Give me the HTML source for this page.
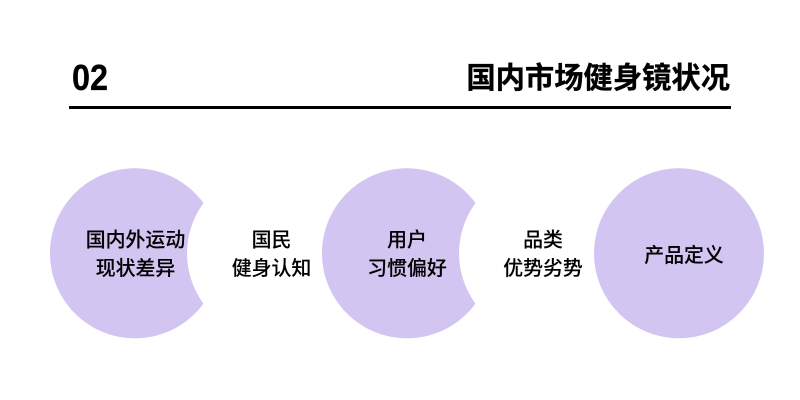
<!DOCTYPE html>
<html lang="zh">
<head>
<meta charset="utf-8">
<style>
html,body{margin:0;padding:0;background:#fff}
svg{display:block}
text{font-family:"Liberation Sans","Noto Sans CJK SC",sans-serif;fill:#000}
</style>
</head>
<body>
<svg width="800" height="400" viewBox="0 0 800 400" xmlns="http://www.w3.org/2000/svg">
<rect width="800" height="400" fill="#fff"/>
<text x="72" y="90" font-size="36" font-weight="700" textLength="36" lengthAdjust="spacingAndGlyphs" stroke="#000" stroke-width="0.3">02</text>
<text x="730" y="88" font-size="29.3" font-weight="700" text-anchor="end" stroke="#000" stroke-width="0.35">国内市场健身镜状况</text>
<rect x="69" y="106" width="662" height="3" fill="#000"/>
<path d="M203.5 203A85 85 0 1 0 203.500 303.600A85 85 0 0 1 203.500 203Z" fill="#d2c5f2"/>
<path d="M475.5 203A85 85 0 1 0 475.500 303.600A85 85 0 0 1 475.500 203Z" fill="#d2c5f2"/>
<circle cx="679" cy="253.300" r="85" fill="#d2c5f2"/>
<g font-size="19.9" text-anchor="middle" font-weight="500" stroke="#000" stroke-width="0.1">
<text x="135.500" y="246.500">国内外运动</text>
<text x="135.500" y="275">现状差异</text>
<text x="271.500" y="246.500">国民</text>
<text x="271.500" y="275">健身认知</text>
<text x="407" y="246.500">用户</text>
<text x="407" y="275">习惯偏好</text>
<text x="543" y="246.500">品类</text>
<text x="543" y="275">优势劣势</text>
<text x="684" y="262">产品定义</text>
</g>
</svg>
</body>
</html>
